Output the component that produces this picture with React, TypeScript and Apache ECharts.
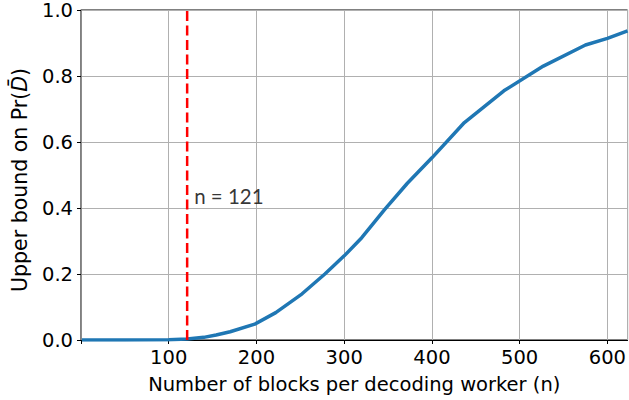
import React, { useEffect, useRef } from "react";
import * as echarts from "echarts";

const nValues = [1, 50, 100, 121, 140, 154, 170, 198, 222, 252, 278, 300, 320, 346, 372, 400, 437, 482, 527, 575, 600, 623];
const boundValues = [0.0, 0.0, 0.001, 0.003, 0.008, 0.015, 0.025, 0.048, 0.083, 0.14, 0.2, 0.255, 0.31, 0.395, 0.475, 0.552, 0.659, 0.755, 0.83, 0.894, 0.914, 0.937];
const thresholdN = 121;
const thresholdLabel = "n = 121";
const xTicks = [100, 200, 300, 400, 500, 600];
const yTicks = [0.0, 0.2, 0.4, 0.6, 0.8, 1.0];

export default function App() {
  const ref = useRef<HTMLDivElement>(null);
  useEffect(() => {
    if (!ref.current) return;
    const chart = echarts.init(ref.current, null, { renderer: "svg" });
    const font = "DejaVu Sans";
    const fs = 19.5;
    const yfs = 20.5;
    chart.setOption({
      animation: false,
      backgroundColor: "#ffffff",
      grid: {
        left: 81,
        right: -2,
        top: 10,
        bottom: 60,
        show: true,
        borderColor: "#000000",
        borderWidth: 1,
        backgroundColor: "transparent",
      },
      xAxis: {
        type: "value",
        min: 0,
        max: 623,
        interval: 100,
        name: "Number of blocks per decoding worker (n)",
        nameLocation: "middle",
        nameGap: 34,
        nameTextStyle: { fontFamily: font, fontSize: fs, color: "#000" },
        axisLine: { show: true, onZero: false, lineStyle: { color: "#000", width: 1 } },
        axisTick: { show: true, length: 4, lineStyle: { color: "#000" } },
        axisLabel: {
          fontFamily: font,
          fontSize: fs,
          color: "#000",
          margin: 7,
          showMaxLabel: false,
          formatter: (v: number) => (xTicks.indexOf(v) >= 0 ? String(v) : ""),
        },
        splitLine: { show: true, lineStyle: { color: "#b0b0b0", width: 1 } },
      },
      yAxis: {
        type: "value",
        min: 0,
        max: 1,
        interval: 0.2,
        name: "{a|Upper bound on Pr(}{i|D\u0304}{a|)}",
        nameLocation: "middle",
        nameGap: 51,
        nameTextStyle: {
          fontFamily: font,
          fontSize: yfs,
          color: "#000",
          padding: [0, 10, 0, 0],
          rich: {
            a: { fontFamily: font, fontSize: yfs, color: "#000" },
            i: { fontFamily: font, fontSize: yfs, color: "#000", fontStyle: "italic" },
          },
        },
        axisLine: { show: true, lineStyle: { color: "#808080", width: 1.5 } },
        axisTick: { show: true, length: 4, lineStyle: { color: "#000" } },
        axisLabel: {
          fontFamily: font,
          fontSize: fs,
          color: "#000",
          margin: 8,
          formatter: (v: number) => {
            const t = yTicks.find((y) => Math.abs(y - v) < 1e-6);
            return t === undefined ? "" : t.toFixed(1);
          },
        },
        splitLine: { show: true, lineStyle: { color: "#b0b0b0", width: 1 } },
      },
      series: [
        {
          type: "line",
          data: nValues.map((n, i) => [n, boundValues[i]]),
          showSymbol: false,
          symbol: "none",
          lineStyle: { color: "#1f77b4", width: 3.5 },
          z: 3,
        },
        {
          type: "line",
          data: [
            [thresholdN, 0],
            [thresholdN, 1],
          ],
          showSymbol: false,
          symbol: "none",
          lineStyle: { color: "#ff0000", width: 2.5, type: [10, 4.5] },
          z: 4,
        },
        {
          type: "scatter",
          data: [[thresholdN, 0.435]],
          symbolSize: 0,
          label: {
            show: true,
            position: "right",
            distance: 7,
            formatter: thresholdLabel,
            fontFamily: "Lato",
            fontSize: 20.5,
            color: "#000",
          },
          z: 5,
        },
      ],
    });
    return () => chart.dispose();
  }, []);
  return <div ref={ref} style={{ width: 629, height: 400, position: "absolute", left: 0, top: 0 }} />;
}
